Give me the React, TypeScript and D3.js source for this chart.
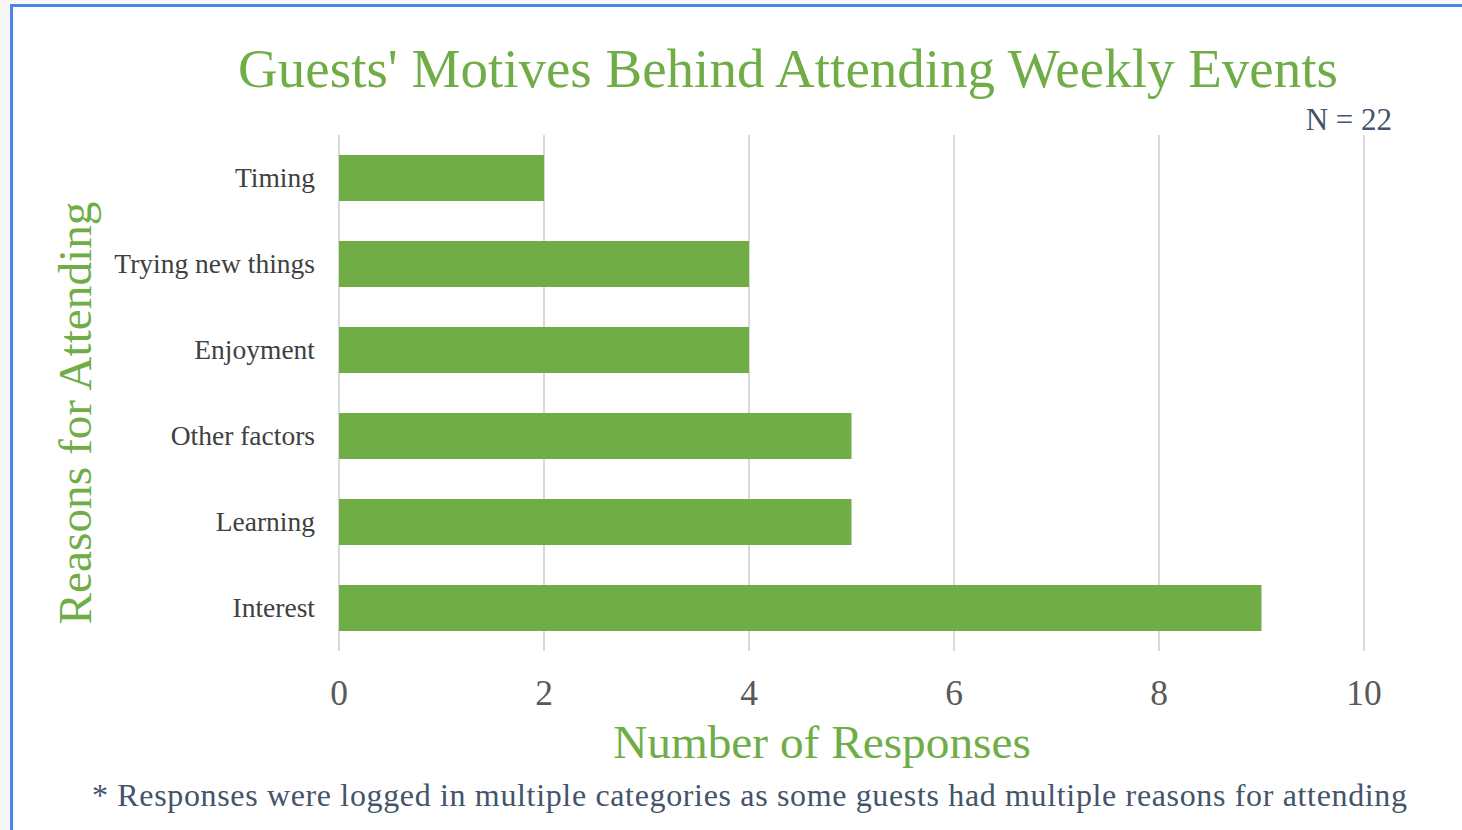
import React from "react";
import * as d3 from "d3";

const categories = ["Timing", "Trying new things", "Enjoyment", "Other factors", "Learning", "Interest"];
const values = [2, 4, 4, 5, 5, 9];
const xTicks = [0, 2, 4, 6, 8, 10];

const W = 1462;
const H = 830;
const GREEN = "#70ad47";
const SERIF = "Liberation Serif, Tinos, Times New Roman, DejaVu Serif, serif";

export default function App() {
  const x = d3.scaleLinear().domain([0, 10]).range([339, 1364]);
  const y = d3.scaleBand<string>().domain(categories).range([135, 651]).paddingInner(0.465).paddingOuter(0.2325);
  const t = (extra: React.CSSProperties = {}) => ({ fontFamily: SERIF, ...extra });
  return (
    <svg width={W} height={H} style={{ position: "absolute", left: 0, top: 0, background: "#f7f7f7" }}>
      <rect x={10} y={3} width={W} height={H} fill="#ffffff" />
      <rect x={11.5} y={5.5} width={W} height={H} fill="none" stroke="#4a86e8" strokeWidth={3} />
      <text x={788} y={87} textAnchor="middle" style={t()} fontSize={55} fill={GREEN}>
        Guests' Motives Behind Attending Weekly Events
      </text>
      <text x={1392} y={130} textAnchor="end" style={t()} fontSize={31} fill="#44546a">
        N = 22
      </text>
      {xTicks.map((v) => (
        <line key={"g" + v} x1={x(v)} x2={x(v)} y1={135} y2={651} stroke="#d9d9d9" strokeWidth={2} />
      ))}
      {categories.map((c, i) => (
        <rect key={c} x={x(0)} y={y(c)} width={x(values[i]) - x(0)} height={y.bandwidth()} fill={GREEN} />
      ))}
      {categories.map((c) => (
        <text key={"l" + c} x={315} y={(y(c) as number) + y.bandwidth() / 2} dy="0.33em" textAnchor="end" style={t()} fontSize={27.5} fill="#404040">
          {c}
        </text>
      ))}
      {xTicks.map((v) => (
        <text key={"t" + v} x={x(v)} y={705} textAnchor="middle" style={t()} fontSize={35.5} fill="#595959">
          {v}
        </text>
      ))}
      <text x={822} y={758} textAnchor="middle" style={t()} fontSize={47.3} fill={GREEN}>
        Number of Responses
      </text>
      <text transform={`translate(91,413) rotate(-90)`} textAnchor="middle" style={t()} fontSize={47.3} fill={GREEN}>
        Reasons for Attending
      </text>
      <text x={92} y={806} style={t()} fontSize={32} fill="#44546a" textLength={1315} lengthAdjust="spacing">
        * Responses were logged in multiple categories as some guests had multiple reasons for attending
      </text>
    </svg>
  );
}
